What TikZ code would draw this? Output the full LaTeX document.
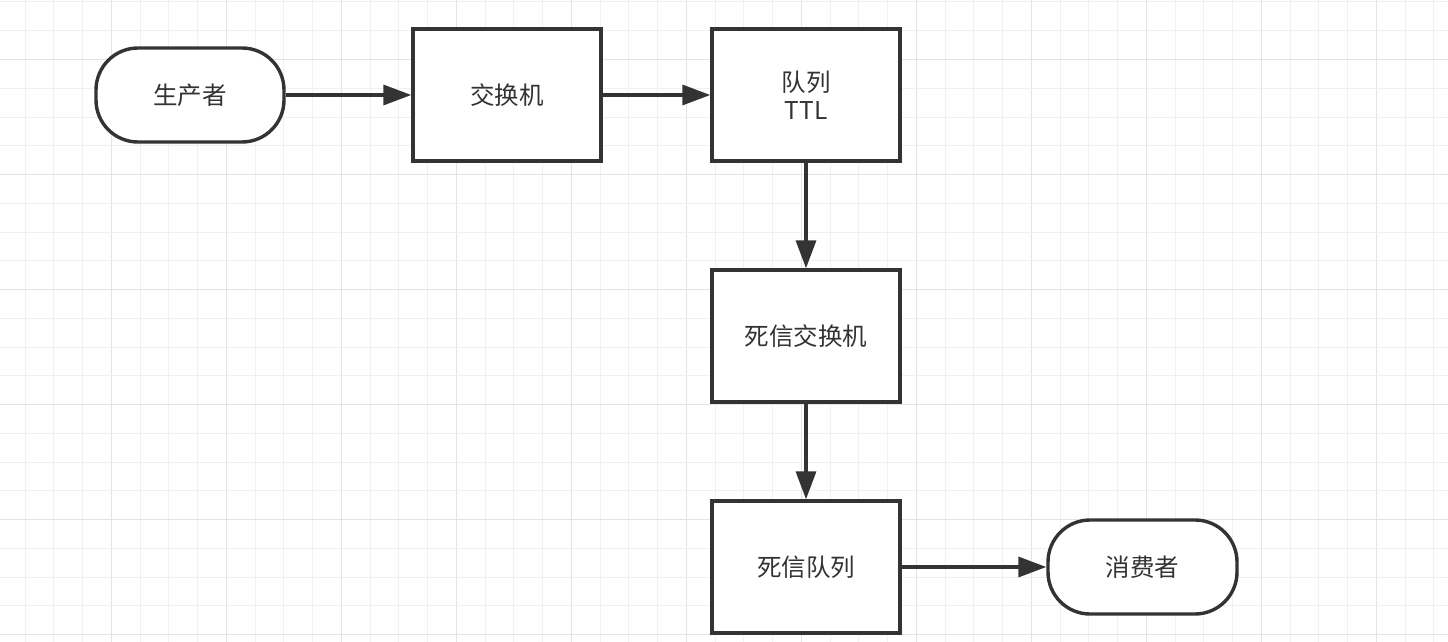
\documentclass[tikz,border=0pt]{standalone}
\usepackage{fontspec}
\setmainfont{Noto Sans CJK SC}
\usetikzlibrary{arrows.meta}
\definecolor{linec}{HTML}{333333}
\definecolor{textc}{HTML}{333333}
\definecolor{gridminor}{HTML}{F0F0F0}
\definecolor{gridmajor}{HTML}{E4E4E4}
\tikzset{
  box/.style={draw=linec, line width=3.4pt, fill=white, rectangle,
    minimum width=188pt, minimum height=132pt, inner sep=0pt,
    text=textc, align=center, font=\fontsize{24.5}{28}\selectfont},
  term/.style={box, minimum height=94pt, rounded corners=42pt},
  conn/.style={draw=linec, line width=3.4pt, -{Triangle[length=28pt,width=20pt]}},
}
\begin{document}
\begin{tikzpicture}[x=1pt,y=-1pt]
\useasboundingbox (0,0) rectangle (1448,642);
\fill[white] (0,0) rectangle (1448,642);
\foreach \i in {0,...,49}{
  \pgfmathtruncatemacro{\m}{mod(\i,4)}
  \ifnum\m=3
    \draw[gridmajor, line width=1.3pt] ({25+\i*28.75},0) -- ({25+\i*28.75},642);
  \else
    \draw[gridminor, line width=1pt] ({25+\i*28.75},0) -- ({25+\i*28.75},642);
  \fi
}
\foreach \j in {0,...,22}{
  \pgfmathtruncatemacro{\m}{mod(\j,4)}
  \ifnum\m=2
    \draw[gridmajor, line width=1.3pt] (0,{2+\j*28.75}) -- (1448,{2+\j*28.75});
  \else
    \draw[gridminor, line width=1pt] (0,{2+\j*28.75}) -- (1448,{2+\j*28.75});
  \fi
}
\node[term] (prod) at (190,95) {生产者};
\node[box] (ex) at (507,95) {交换机};
\node[box] (q) at (806,95) {队列\\TTL};
\node[box] (dlx) at (806,336) {死信交换机};
\node[box] (dlq) at (806,567) {死信队列};
\node[term, minimum width=189pt] (cons) at (1142.5,567) {消费者};
\draw[conn] (prod) -- (ex);
\draw[conn] (ex) -- (q);
\draw[conn] (q) -- (dlx);
\draw[conn] (dlx) -- (dlq);
\draw[conn] (dlq) -- (cons);
\end{tikzpicture}
\end{document}
